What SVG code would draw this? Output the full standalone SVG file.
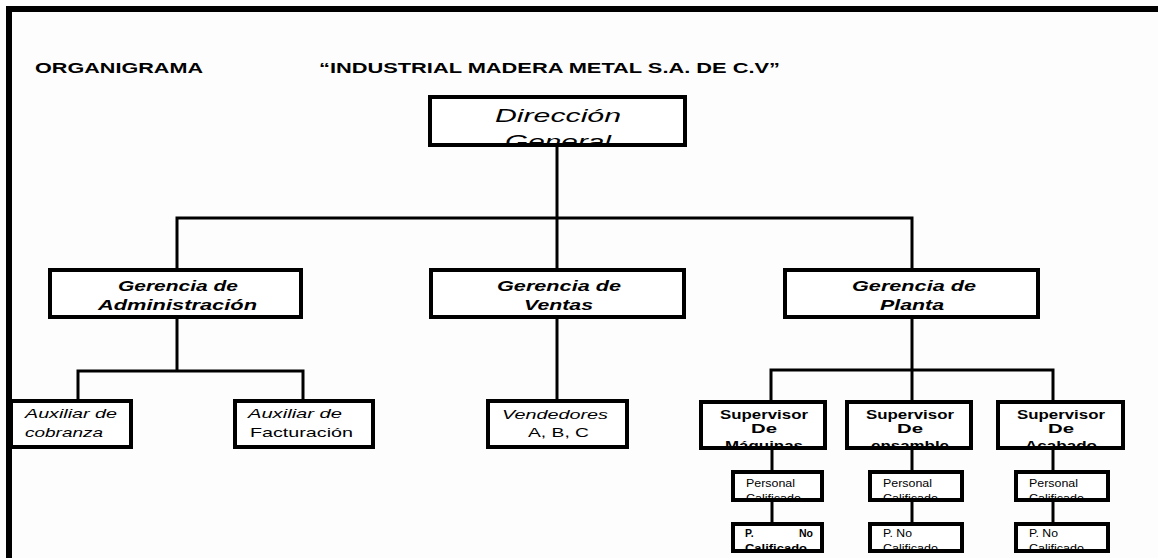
<svg xmlns="http://www.w3.org/2000/svg" width="1158" height="558" viewBox="0 0 1158 558">
<style>
text{font-family:"Liberation Sans",Arial,sans-serif;fill:#000}
.box{fill:#fff;stroke:#000;stroke-width:4}
.sbox{fill:#fff;stroke:#000;stroke-width:4}
.conn line,.conn polyline{stroke:#000;stroke-width:3;fill:none}
.t1{font-size:15px;font-weight:bold}
.bi{font-size:15px;font-weight:bold;font-style:italic}
.dg{font-size:18px;font-style:italic}
.it{font-size:13px;font-style:italic}
.rg{font-size:13px}
.sb{font-size:12.5px;font-weight:bold}
.sm{font-size:10.5px}
.smb{font-size:10.5px;font-weight:bold}
</style>
<defs>
<clipPath id="cDir"><rect x="432" y="99" width="251" height="44"/></clipPath>
<clipPath id="cS1"><rect x="701" y="404" width="124" height="42"/></clipPath>
<clipPath id="cS2"><rect x="847" y="404" width="124" height="42"/></clipPath>
<clipPath id="cS3"><rect x="998" y="404" width="125" height="42"/></clipPath>
<clipPath id="cP1"><rect x="733" y="474" width="89" height="24"/></clipPath>
<clipPath id="cP2"><rect x="870" y="474" width="92" height="24"/></clipPath>
<clipPath id="cP3"><rect x="1016" y="474" width="92" height="24"/></clipPath>
<clipPath id="cN1"><rect x="733" y="526" width="89" height="23"/></clipPath>
<clipPath id="cN2"><rect x="870" y="526" width="92" height="23"/></clipPath>
<clipPath id="cN3"><rect x="1016" y="526" width="92" height="23"/></clipPath>
</defs>
<rect width="1158" height="558" fill="#fdfdfd"/>
<g id="frame">
<line x1="6" y1="9" x2="1158" y2="9" stroke="#000" stroke-width="6"/>
<line x1="9" y1="6" x2="9" y2="558" stroke="#000" stroke-width="6"/>
</g>
<g id="titles">
<text class="t1" x="35" y="73" textLength="168" lengthAdjust="spacingAndGlyphs">ORGANIGRAMA</text>
<text class="t1" x="319" y="73" textLength="461" lengthAdjust="spacingAndGlyphs">“INDUSTRIAL MADERA METAL S.A. DE C.V”</text>
</g>
<g class="conn" id="connectors">
<line x1="557" y1="147" x2="557" y2="268"/>
<polyline points="177,268 177,218 912,218 912,268"/>
<line x1="177" y1="318" x2="177" y2="371"/>
<polyline points="78,399 78,371 303,371 303,399"/>
<line x1="557" y1="318" x2="557" y2="399"/>
<line x1="912" y1="318" x2="912" y2="400"/>
<polyline points="771,400 771,370 1053,370 1053,400"/>
<line x1="772" y1="450" x2="772" y2="522"/>
<line x1="912" y1="450" x2="912" y2="522"/>
<line x1="1053" y1="450" x2="1053" y2="522"/>
</g>
<g id="n-direccion">
<rect class="box" x="430" y="97" width="255" height="48"/>
<g clip-path="url(#cDir)">
<text class="dg" x="558" y="122" text-anchor="middle" textLength="126" lengthAdjust="spacingAndGlyphs">Dirección</text>
<text class="dg" x="558" y="148" text-anchor="middle" textLength="106" lengthAdjust="spacingAndGlyphs">General</text>
</g>
</g>
<g id="n-admin">
<rect class="box" x="50" y="270" width="251" height="47"/>
<text class="bi" x="118" y="291" textLength="120" lengthAdjust="spacingAndGlyphs">Gerencia de</text>
<text class="bi" x="98" y="310" textLength="159" lengthAdjust="spacingAndGlyphs">Administración</text>
</g>
<g id="n-ventas">
<rect class="box" x="431" y="270" width="253" height="47"/>
<text class="bi" x="497" y="291" textLength="124" lengthAdjust="spacingAndGlyphs">Gerencia de</text>
<text class="bi" x="524" y="310" textLength="69" lengthAdjust="spacingAndGlyphs">Ventas</text>
</g>
<g id="n-planta">
<rect class="box" x="785" y="270" width="253" height="47"/>
<text class="bi" x="852" y="291" textLength="124" lengthAdjust="spacingAndGlyphs">Gerencia de</text>
<text class="bi" x="880" y="310" textLength="64" lengthAdjust="spacingAndGlyphs">Planta</text>
</g>
<g id="n-cobranza">
<rect class="box" x="11" y="401" width="120" height="46"/>
<text class="it" x="25" y="418" textLength="92" lengthAdjust="spacingAndGlyphs">Auxiliar de</text>
<text class="it" x="25" y="437" textLength="78" lengthAdjust="spacingAndGlyphs">cobranza</text>
</g>
<g id="n-facturacion">
<rect class="box" x="235" y="401" width="138" height="46"/>
<text class="it" x="248" y="418" textLength="94" lengthAdjust="spacingAndGlyphs">Auxiliar de</text>
<text class="rg" x="250" y="437" textLength="103" lengthAdjust="spacingAndGlyphs">Facturación</text>
</g>
<g id="n-vendedores">
<rect class="box" x="488" y="401" width="139" height="46"/>
<text class="it" x="502" y="419" textLength="106" lengthAdjust="spacingAndGlyphs">Vendedores</text>
<text class="rg" x="528" y="437" textLength="61" lengthAdjust="spacingAndGlyphs">A, B, C</text>
</g>
<g id="n-sup-maquinas">
<rect class="box" x="701" y="402" width="124" height="46"/>
<g clip-path="url(#cS1)">
<text class="sb" x="764" y="419" text-anchor="middle" textLength="88" lengthAdjust="spacingAndGlyphs">Supervisor</text>
<text class="sb" x="764" y="433" text-anchor="middle" textLength="26" lengthAdjust="spacingAndGlyphs">De</text>
<text class="sb" x="764" y="450" text-anchor="middle" textLength="78" lengthAdjust="spacingAndGlyphs">Máquinas</text>
</g>
</g>
<g id="n-sup-ensamble">
<rect class="box" x="847" y="402" width="124" height="46"/>
<g clip-path="url(#cS2)">
<text class="sb" x="910" y="419" text-anchor="middle" textLength="88" lengthAdjust="spacingAndGlyphs">Supervisor</text>
<text class="sb" x="910" y="433" text-anchor="middle" textLength="26" lengthAdjust="spacingAndGlyphs">De</text>
<text class="sb" x="910" y="450" text-anchor="middle" textLength="78" lengthAdjust="spacingAndGlyphs">ensamble</text>
</g>
</g>
<g id="n-sup-acabado">
<rect class="box" x="998" y="402" width="125" height="46"/>
<g clip-path="url(#cS3)">
<text class="sb" x="1061" y="419" text-anchor="middle" textLength="88" lengthAdjust="spacingAndGlyphs">Supervisor</text>
<text class="sb" x="1061" y="433" text-anchor="middle" textLength="26" lengthAdjust="spacingAndGlyphs">De</text>
<text class="sb" x="1061" y="450" text-anchor="middle" textLength="72" lengthAdjust="spacingAndGlyphs">Acabado</text>
</g>
</g>
<g id="n-pers-1">
<rect class="sbox" x="733" y="472" width="89" height="28"/>
<g clip-path="url(#cP1)">
<text class="sm" x="746" y="487" textLength="49" lengthAdjust="spacingAndGlyphs">Personal</text>
<text class="sm" x="746" y="502" textLength="55" lengthAdjust="spacingAndGlyphs">Calificado</text>
</g>
</g>
<g id="n-pers-2">
<rect class="sbox" x="870" y="472" width="92" height="28"/>
<g clip-path="url(#cP2)">
<text class="sm" x="883" y="487" textLength="49" lengthAdjust="spacingAndGlyphs">Personal</text>
<text class="sm" x="883" y="502" textLength="55" lengthAdjust="spacingAndGlyphs">Calificado</text>
</g>
</g>
<g id="n-pers-3">
<rect class="sbox" x="1016" y="472" width="92" height="28"/>
<g clip-path="url(#cP3)">
<text class="sm" x="1029" y="487" textLength="49" lengthAdjust="spacingAndGlyphs">Personal</text>
<text class="sm" x="1029" y="502" textLength="55" lengthAdjust="spacingAndGlyphs">Calificado</text>
</g>
</g>
<g id="n-nocal-1">
<rect class="sbox" x="733" y="524" width="89" height="27"/>
<g clip-path="url(#cN1)">
<text class="smb" x="745" y="537">P.</text>
<text class="smb" x="813" y="537" text-anchor="end">No</text>
<text class="smb" x="745" y="552" textLength="62" lengthAdjust="spacingAndGlyphs">Calificado</text>
</g>
</g>
<g id="n-nocal-2">
<rect class="sbox" x="870" y="524" width="92" height="27"/>
<g clip-path="url(#cN2)">
<text class="sm" x="883" y="537" textLength="29" lengthAdjust="spacingAndGlyphs">P. No</text>
<text class="sm" x="883" y="552" textLength="55" lengthAdjust="spacingAndGlyphs">Calificado</text>
</g>
</g>
<g id="n-nocal-3">
<rect class="sbox" x="1016" y="524" width="92" height="27"/>
<g clip-path="url(#cN3)">
<text class="sm" x="1029" y="537" textLength="29" lengthAdjust="spacingAndGlyphs">P. No</text>
<text class="sm" x="1029" y="552" textLength="55" lengthAdjust="spacingAndGlyphs">Calificado</text>
</g>
</g>
</svg>
